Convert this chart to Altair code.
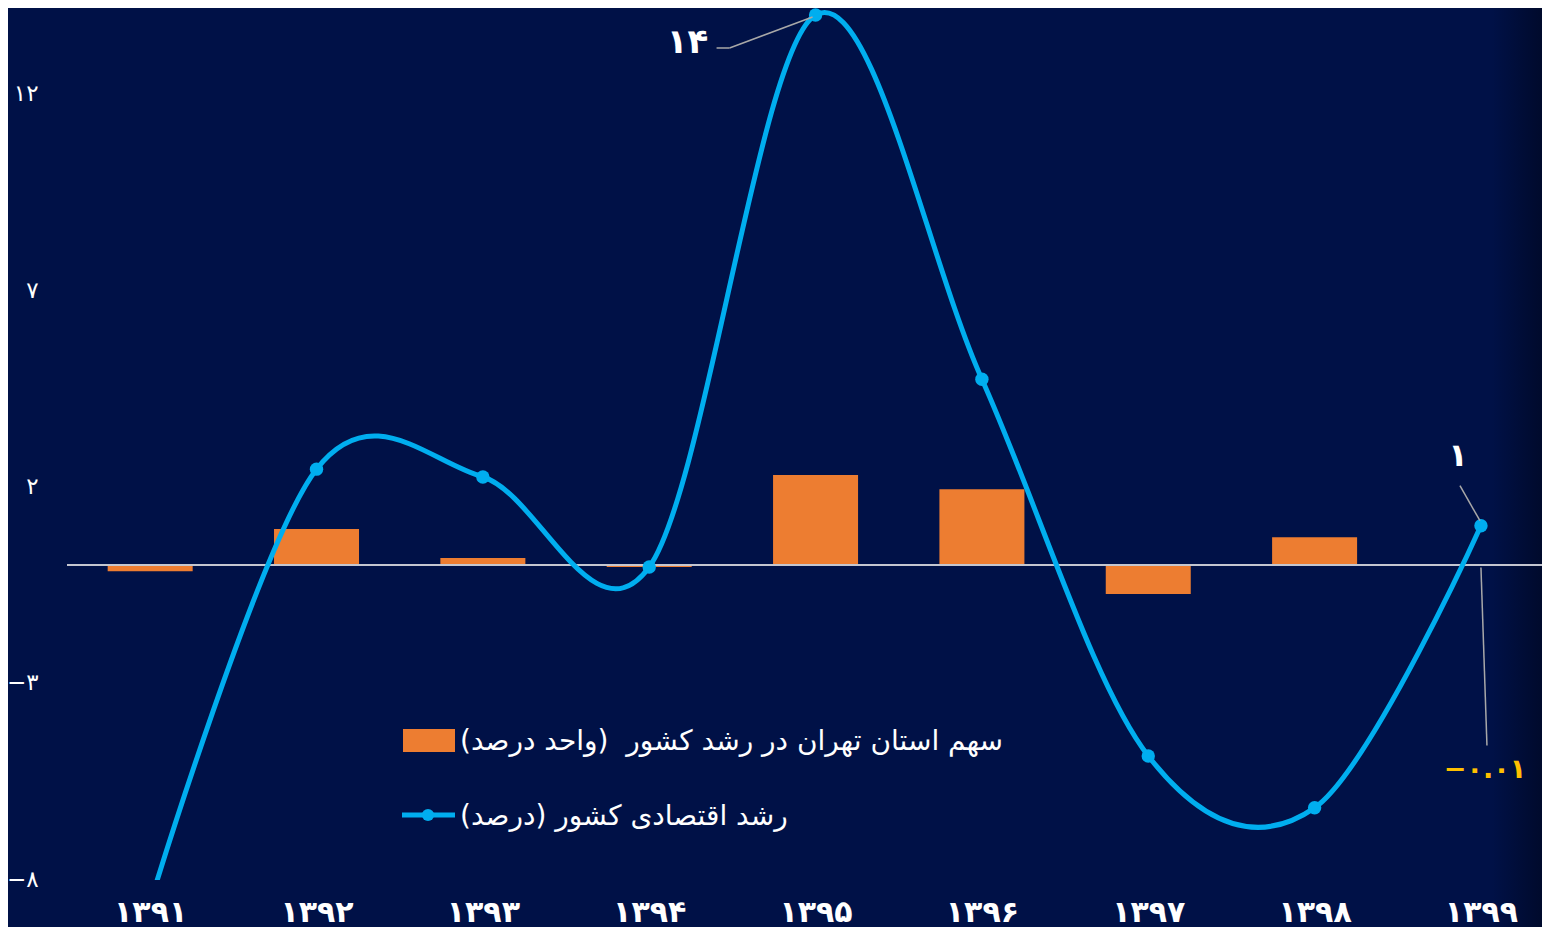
import altair as alt
import pandas as pd

# ---------------- data ----------------
years = [1391, 1392, 1393, 1394, 1395, 1396, 1397, 1398, 1399]
year_labels = ["۱۳۹۱", "۱۳۹۲", "۱۳۹۳", "۱۳۹۴", "۱۳۹۵", "۱۳۹۶", "۱۳۹۷", "۱۳۹۸", "۱۳۹۹"]
# country economic growth (%)
growth = [-8.6, 2.44, 2.24, -0.05, 14.0, 4.73, -4.86, -6.18, 1.0]
# Tehran province share of the country's growth (percentage points)
tehran_share = [-0.16, 0.92, 0.18, -0.05, 2.29, 1.93, -0.74, 0.71, -0.01]

y_ticks = [-8, -3, 2, 7, 12]
y_tick_labels = ["−۸", "−۳", "۲", "۷", "۱۲"]

legend_bar = "سهم استان تهران در رشد کشور\u00a0 (واحد درصد)\u200f"
legend_line = "رشد اقتصادی کشور (درصد)\u200f"
ann_peak = "۱۴"
ann_last = "۱"
ann_share_last = "−۰.۰۱"

# ---------------- style ----------------
BG = "#001147"
ORANGE = "#ed7d31"
BLUE = "#00aeef"
GOLD = "#ffc000"
LEADER = "#a8a8a8"
FONT = "DejaVu Sans"

W, H = 1475, 872

df = pd.DataFrame({"year": years, "growth": growth, "share": tehran_share})


def cond_expr(values, labels):
    expr = "''"
    for v, l in reversed(list(zip(values, labels))):
        expr = f"datum.value == {v} ? '{l}' : ({expr})"
    return expr


xscale = alt.Scale(domain=[1390.5, 1399.367], nice=False, zero=False, padding=0)
yscale = alt.Scale(domain=[-8.017, 14.178], nice=False, zero=False, padding=0)

x_axis = alt.Axis(values=years, labelExpr=cond_expr(years, year_labels), title=None,
                  domain=False, ticks=False, grid=False, labelColor="white",
                  labelFont=FONT, labelFontSize=30, labelFontWeight="bold",
                  labelPadding=17, labelFlush=False, zindex=2)
y_axis = alt.Axis(values=y_ticks, labelExpr=cond_expr(y_ticks, y_tick_labels), title=None,
                  domain=False, ticks=False, grid=False, labelColor="white",
                  labelFont=FONT, labelFontSize=23, labelPadding=29, labelOffset=0, zindex=2)

base = alt.Chart(df)

# right-edge dark shading
shade = base.mark_rect(
    fill=alt.LinearGradient(gradient="linear",
                            stops=[alt.GradientStop(color=BG, offset=0),
                                   alt.GradientStop(color="#000a2c", offset=1)],
                            x1=0, x2=1, y1=0, y2=0)
).encode(x=alt.value(1425), x2=alt.value(W), y=alt.value(0), y2=alt.value(H + 47))

bars = base.mark_bar(size=85, color=ORANGE).encode(
    x=alt.X("year:Q", scale=xscale, axis=x_axis),
    y=alt.Y("share:Q", scale=yscale, axis=y_axis),
    y2=alt.datum(0),
)

zero_rule = base.mark_rule(color="#c4c6d0", strokeWidth=1.8).encode(y=alt.datum(0, scale=yscale))

line = base.mark_line(interpolate="cardinal", color=BLUE, strokeWidth=5, clip=True).encode(
    x=alt.X("year:Q", scale=xscale),
    y=alt.Y("growth:Q", scale=yscale),
)
points = base.mark_circle(size=180, color=BLUE, opacity=1, clip=True).encode(
    x=alt.X("year:Q", scale=xscale),
    y=alt.Y("growth:Q", scale=yscale),
)

one = pd.DataFrame({"a": [0]})
ab = alt.Chart(one)

# annotation: peak value
i_pk = 4
peak_txt = ab.mark_text(text=ann_peak, font=FONT, fontSize=34, fontWeight="bold", color="white",
                        dx=-128, dy=28, align="center", baseline="middle").encode(
    x=alt.datum(years[i_pk]), y=alt.datum(growth[i_pk]))
peak_l1 = ab.mark_rule(color=LEADER, strokeWidth=1.5, xOffset=-99, yOffset=33, x2Offset=-86, y2Offset=33).encode(
    x=alt.datum(years[i_pk]), y=alt.datum(growth[i_pk]), x2=alt.datum(years[i_pk]), y2=alt.datum(growth[i_pk]))
peak_l2 = ab.mark_rule(color=LEADER, strokeWidth=1.5, xOffset=-86, yOffset=33, x2Offset=-3, y2Offset=2).encode(
    x=alt.datum(years[i_pk]), y=alt.datum(growth[i_pk]), x2=alt.datum(years[i_pk]), y2=alt.datum(growth[i_pk]))

# annotation: last growth value
i_l = 8
last_txt = ab.mark_text(text=ann_last, font=FONT, fontSize=32, fontWeight="bold", color="white",
                        dx=-23, dy=-70, align="center", baseline="middle").encode(
    x=alt.datum(years[i_l]), y=alt.datum(growth[i_l]))
last_l = ab.mark_rule(color=LEADER, strokeWidth=1.5, xOffset=-21, yOffset=-40, x2Offset=-1, y2Offset=-5).encode(
    x=alt.datum(years[i_l]), y=alt.datum(growth[i_l]), x2=alt.datum(years[i_l]), y2=alt.datum(growth[i_l]))

# annotation: last share value
share_txt = ab.mark_text(text=ann_share_last, font=FONT, fontSize=27, fontWeight="bold", color=GOLD,
                         dx=4, dy=205, align="center", baseline="middle").encode(
    x=alt.datum(years[i_l]), y=alt.datum(tehran_share[i_l]))
share_l = ab.mark_rule(color=LEADER, strokeWidth=1.5, xOffset=0, yOffset=2, x2Offset=6, y2Offset=180).encode(
    x=alt.datum(years[i_l]), y=alt.datum(tehran_share[i_l]), x2=alt.datum(years[i_l]), y2=alt.datum(tehran_share[i_l]))

# legend
leg_rect = ab.mark_rect(color=ORANGE).encode(x=alt.value(336), x2=alt.value(388), y=alt.value(721), y2=alt.value(744))
leg_t1 = ab.mark_text(text=legend_bar, font=FONT, fontSize=28, color="white", align="left", baseline="middle").encode(
    x=alt.value(393), y=alt.value(734))
leg_line = ab.mark_rule(color=BLUE, strokeWidth=5).encode(x=alt.value(335), x2=alt.value(388), y=alt.value(807))
leg_pt = ab.mark_circle(color=BLUE, size=150, opacity=1).encode(x=alt.value(361), y=alt.value(807))
leg_t2 = ab.mark_text(text=legend_line, font=FONT, fontSize=28, color="white", align="left", baseline="middle").encode(
    x=alt.value(393), y=alt.value(809))

chart = alt.layer(
    shade, bars, zero_rule, line, points,
    peak_l1, peak_l2, peak_txt, last_l, last_txt, share_l, share_txt,
    leg_rect, leg_t1, leg_line, leg_pt, leg_t2,
).properties(
    width=W, height=H,
    autosize=alt.AutoSizeParams(type="none"),
    padding={"left": 59, "top": 0, "right": 0, "bottom": 47},
    background=BG,
).configure_view(stroke=None)

chart.save("out.html", embed_options={"renderer": "svg", "actions": False})
